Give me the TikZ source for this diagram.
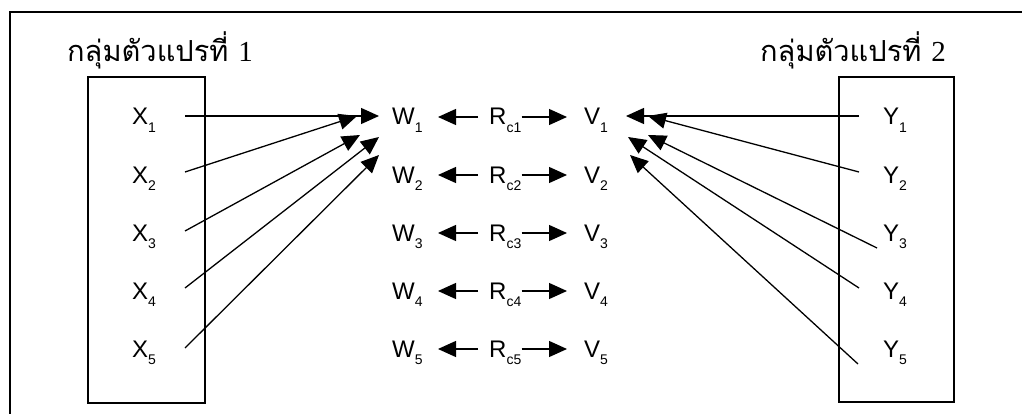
\documentclass[tikz,border=0pt]{standalone}
\usepackage{fontspec}
\setmainfont{Liberation Sans}
\newfontfamily\thaifont[Script=Thai]{Loma}
\newfontfamily\digitfont{Liberation Serif}
\usetikzlibrary{arrows.meta}
\newcommand\sbs[1]{\raisebox{-0.3em}{\fontsize{14pt}{14pt}\selectfont #1}}
\begin{document}
\begin{tikzpicture}[x=1pt,y=-1pt,
  lbl/.style={font=\fontsize{24pt}{24pt}\selectfont, inner sep=0pt, anchor=base west},
  arr/.style={line width=1.3pt, -{Triangle[length=18pt,width=16pt]}},
  box/.style={draw, line width=1.8pt, inner sep=0pt},
  ttl/.style={font=\thaifont\fontsize{29pt}{29pt}\selectfont, inner sep=0pt, anchor=base west}]
\useasboundingbox (0,0) rectangle (1022,414);
\draw[line width=2.2pt] (10,414) -- (10,12) -- (1022,12);
% boxes
\node[box, minimum width=117pt, minimum height=326pt] (lbox) at (146.5,240) {};
\node[box, minimum width=115pt, minimum height=325pt] (rbox) at (896.5,239.5) {};
% titles
\node[ttl] (t1) at (67,62) {กลุ่มตัวแปรที่ {\digitfont 1}};
\node[ttl, anchor=base east] (t2) at (946,62) {กลุ่มตัวแปรที่ {\digitfont 2}};
% labels
\foreach \i/\b in {1/125,2/183,3/241,4/299,5/357}{
  \node[lbl] (x\i) at (132,\b) {X\sbs{\i}};
  \node[lbl] (w\i) at (392,\b) {W\sbs{\i}};
  \node[lbl] (r\i) at (489,\b) {R\sbs{c\i}};
  \node[lbl] (v\i) at (584,\b) {V\sbs{\i}};
  \node[lbl] (y\i) at (883,\b) {Y\sbs{\i}};
  \coordinate (rl\i) at (478,\b-8);
  \coordinate (wl\i) at (438,\b-8);
  \coordinate (vr\i) at (567,\b-8);
  \draw[arr] (rl\i) -- (wl\i);
  \draw[arr] (r\i.east |- rl\i) -- (vr\i);
}
% left connectors
\coordinate (xs1) at (185,116);
\coordinate (xs2) at (185,172);
\coordinate (xs3) at (185,231);
\coordinate (xs4) at (185,288);
\coordinate (xs5) at (185,348);
\coordinate (xe1) at (379,116);
\coordinate (xe2) at (357,116);
\coordinate (xe3) at (360,135);
\coordinate (xe4) at (379,137);
\coordinate (xe5) at (379,155);
% right connectors
\coordinate (ys1) at (859,116);
\coordinate (ys2) at (859,172);
\coordinate (ys3) at (877,248);
\coordinate (ys4) at (859,288);
\coordinate (ys5) at (858,364);
\coordinate (ye1) at (626,116);
\coordinate (ye2) at (648,116);
\coordinate (ye3) at (648,135);
\coordinate (ye4) at (628,137);
\coordinate (ye5) at (630,155);
\foreach \i in {1,...,5}{
  \draw[arr] (xs\i) -- (xe\i);
  \draw[arr] (ys\i) -- (ye\i);
}
\end{tikzpicture}
\end{document}
